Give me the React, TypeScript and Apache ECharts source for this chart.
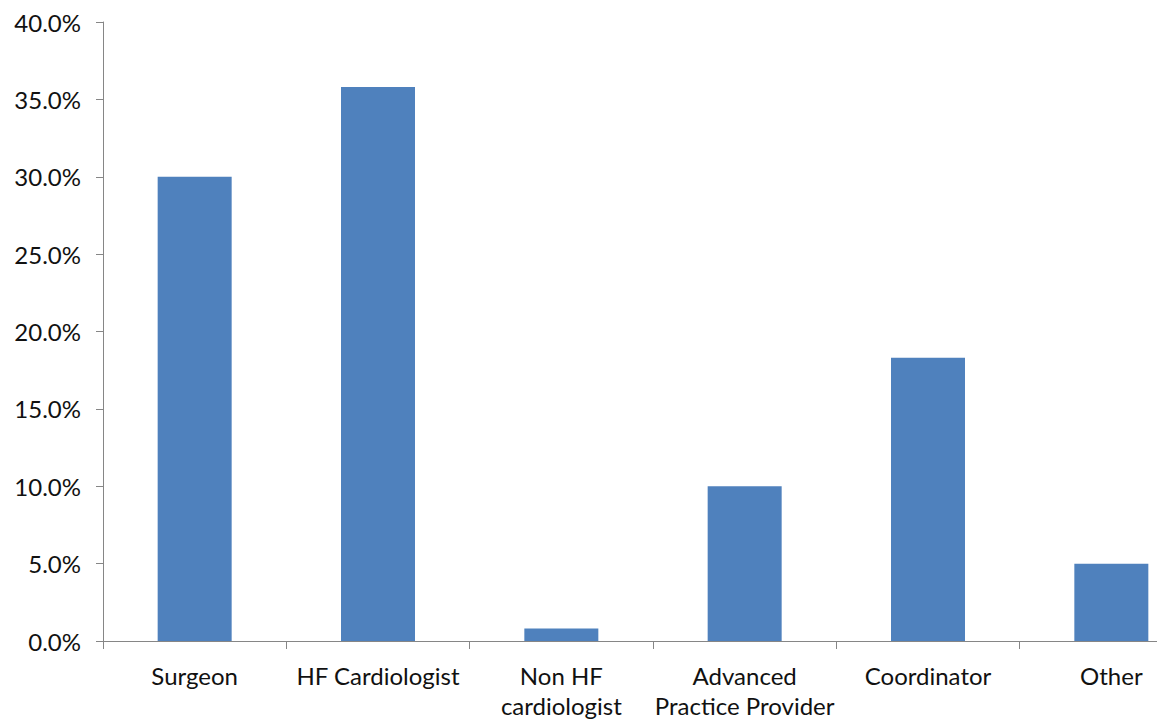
import React, { useEffect, useRef } from "react";
import * as echarts from "echarts";

const categories = [
  "Surgeon",
  "HF Cardiologist",
  "Non HF\ncardiologist",
  "Advanced\nPractice Provider",
  "Coordinator",
  "Other",
];
const values = [30.0, 35.8, 0.8, 10.0, 18.3, 5.0];
const yMin = 0;
const yMax = 40;
const yInterval = 5;

export default function App() {
  const ref = useRef<HTMLDivElement>(null);
  useEffect(() => {
    if (!ref.current) return;
    const chart = echarts.init(ref.current, undefined, { renderer: "svg" });
    const font = "Lato";
    chart.setOption({
      animation: false,
      backgroundColor: "#ffffff",
      grid: {
        left: 103,
        top: 22,
        bottom: 80,
        right: -46,
        containLabel: false,
        outerBoundsMode: "none",
      },
      xAxis: {
        type: "category",
        data: categories,
        axisLine: { lineStyle: { color: "#868686", width: 1 } },
        axisTick: { show: true, length: 8, alignWithLabel: false, lineStyle: { color: "#868686" } },
        axisLabel: {
          interval: 0,
          margin: 19,
          fontFamily: font,
          fontSize: 24,
          color: "#111111",
          lineHeight: 30,
        },
        splitLine: { show: false },
      },
      yAxis: {
        type: "value",
        min: yMin,
        max: yMax,
        interval: yInterval,
        axisLine: { show: true, lineStyle: { color: "#868686", width: 1 } },
        axisTick: { show: true, length: 7, lineStyle: { color: "#868686" } },
        axisLabel: {
          margin: 22,
          fontFamily: font,
          fontSize: 24,
          color: "#111111",
          formatter: (v: number) => v.toFixed(1) + "%",
        },
        splitLine: { show: false },
      },
      series: [
        {
          type: "bar",
          data: values,
          barWidth: 74,
          itemStyle: { color: "#4F81BD" },
        },
      ],
    });
    return () => chart.dispose();
  }, []);
  return (
    <div
      ref={ref}
      style={{ position: "absolute", left: 0, top: 0, width: 1157, height: 721 }}
    />
  );
}
